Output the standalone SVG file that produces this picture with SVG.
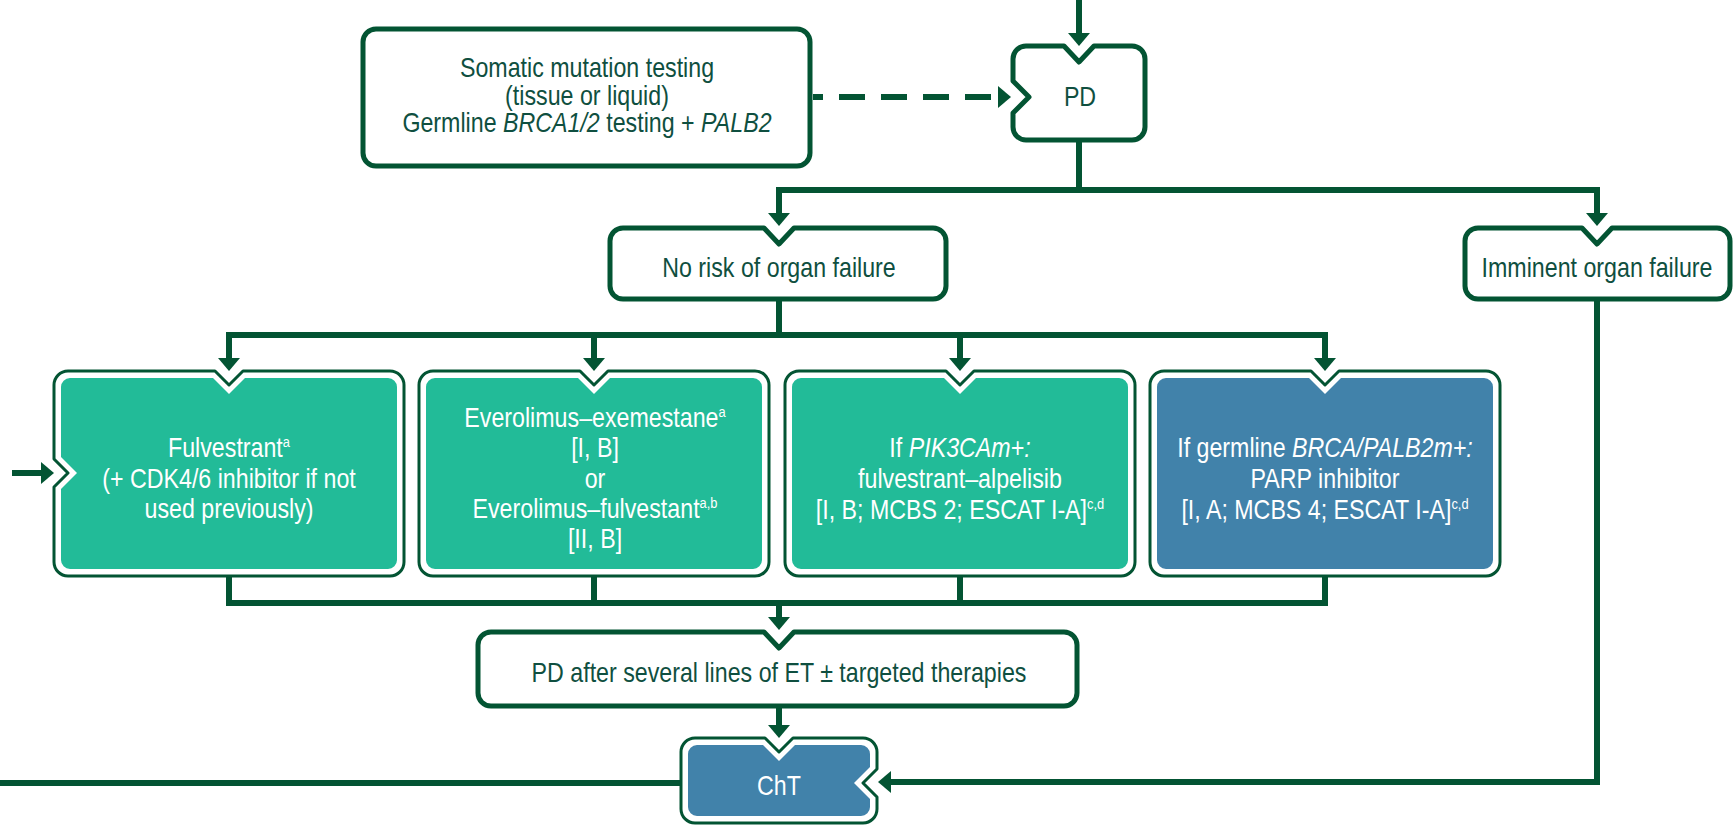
<svg xmlns="http://www.w3.org/2000/svg" width="1735" height="830" viewBox="0 0 1735 830">
<defs>
<style>
.bw{fill:#ffffff;stroke:#035433;stroke-width:5;stroke-linejoin:round}
.bo{fill:#ffffff;stroke:#035433;stroke-width:3;stroke-linejoin:round}
.teal{fill:#22bb98}
.blue{fill:#4182aa}
.ln{fill:none;stroke:#035433;stroke-width:6;stroke-linejoin:miter}
.t{font-family:"Liberation Sans",Arial,sans-serif;font-size:27px;text-anchor:middle;fill:#0f4f40}
.w{fill:#ffffff}
.i{font-style:italic}
.s{font-size:15px}
</style>
<marker id="ah" markerUnits="userSpaceOnUse" viewBox="0 0 13 22" markerWidth="13" markerHeight="22" refX="0" refY="11" orient="auto-start-reverse">
<path d="M0,0 L13,11 L0,22 Z" fill="#035433"/>
</marker>
</defs>

<g id="connectors">
<path class="ln" d="M1079,0 V33" marker-end="url(#ah)"/>
<path class="ln" d="M813,97 H998" stroke-width="7" stroke-dasharray="10 16 26 16 26 16 26 16 26 16 26" marker-end="url(#ah)"/>
<path class="ln" d="M1079,140 V190"/>
<path class="ln" d="M779,213 V190 H1597 V213" marker-start="url(#ah)" marker-end="url(#ah)"/>
<path class="ln" d="M779,299 V335"/>
<path class="ln" d="M229,358 V335 H1325 V358" marker-start="url(#ah)" marker-end="url(#ah)"/>
<path class="ln" d="M594,335 V358" marker-end="url(#ah)"/>
<path class="ln" d="M960,335 V358" marker-end="url(#ah)"/>
<path class="ln" d="M229,576 V603 H1325 V576"/>
<path class="ln" d="M594,576 V603"/>
<path class="ln" d="M960,576 V603"/>
<path class="ln" d="M779,603 V617" marker-end="url(#ah)"/>
<path class="ln" d="M779,706 V725" marker-end="url(#ah)"/>
<path class="ln" d="M0,783 H681"/>
<path class="ln" d="M1597,299 V782 H891" stroke-width="5" marker-end="url(#ah)"/>
<path class="ln" d="M12,473 H41" marker-end="url(#ah)"/>
</g>

<g id="somatic">
<rect class="bw" x="363" y="29" width="447" height="137" rx="13"/>
<text class="t" transform="translate(587,77) scale(0.86,1)">Somatic mutation testing</text>
<text class="t" transform="translate(587,105) scale(0.86,1)">(tissue or liquid)</text>
<text class="t" transform="translate(587,132) scale(0.86,1)">Germline <tspan class="i">BRCA1/2</tspan> testing + <tspan class="i">PALB2</tspan></text>
</g>

<g id="pd">
<path class="bw" d="M1026,46 L1064,46 L1079,62 L1094,46 L1132,46 A13,13 0 0 1 1145,59 L1145,127 A13,13 0 0 1 1132,140 L1026,140 A13,13 0 0 1 1013,127 L1013,113 L1029,97 L1013,81 L1013,59 A13,13 0 0 1 1026,46 Z"/>
<text class="t" transform="translate(1080,106) scale(0.86,1)">PD</text>
</g>

<g id="no-risk">
<path class="bw" d="M623,228 L764,228 L779,244 L794,228 L933,228 A13,13 0 0 1 946,241 L946,286 A13,13 0 0 1 933,299 L623,299 A13,13 0 0 1 610,286 L610,241 A13,13 0 0 1 623,228 Z"/>
<text class="t" transform="translate(779,277) scale(0.86,1)">No risk of organ failure</text>
</g>

<g id="imminent">
<path class="bw" d="M1478,228 L1582,228 L1597,244 L1612,228 L1717,228 A13,13 0 0 1 1730,241 L1730,286 A13,13 0 0 1 1717,299 L1478,299 A13,13 0 0 1 1465,286 L1465,241 A13,13 0 0 1 1478,228 Z"/>
<text class="t" transform="translate(1597,277) scale(0.86,1)">Imminent organ failure</text>
</g>

<g id="fulvestrant">
<path class="bo" d="M68,371 L215,371 L229,385 L243,371 L390,371 A14,14 0 0 1 404,385 L404,562 A14,14 0 0 1 390,576 L68,576 A14,14 0 0 1 54,562 L54,487 L68,473 L54,459 L54,385 A14,14 0 0 1 68,371 Z"/>
<path class="teal" d="M70,378 L213,378 L229,394 L245,378 L388,378 A9,9 0 0 1 397,387 L397,560 A9,9 0 0 1 388,569 L70,569 A9,9 0 0 1 61,560 L61,489 L77,473 L61,457 L61,387 A9,9 0 0 1 70,378 Z"/>
<text class="t w" transform="translate(229,457) scale(0.86,1)">Fulvestrant<tspan class="s" dy="-10">a</tspan></text>
<text class="t w" transform="translate(229,488) scale(0.86,1)">(+ CDK4/6 inhibitor if not</text>
<text class="t w" transform="translate(229,518) scale(0.86,1)">used previously)</text>
</g>

<g id="everolimus">
<path class="bo" d="M433,371 L580,371 L594,385 L608,371 L755,371 A14,14 0 0 1 769,385 L769,562 A14,14 0 0 1 755,576 L433,576 A14,14 0 0 1 419,562 L419,385 A14,14 0 0 1 433,371 Z"/>
<path class="teal" d="M435,378 L578,378 L594,394 L610,378 L753,378 A9,9 0 0 1 762,387 L762,560 A9,9 0 0 1 753,569 L435,569 A9,9 0 0 1 426,560 L426,387 A9,9 0 0 1 435,378 Z"/>
<text class="t w" transform="translate(595,427) scale(0.86,1)">Everolimus–exemestane<tspan class="s" dy="-10">a</tspan></text>
<text class="t w" transform="translate(595,457) scale(0.86,1)">[I, B]</text>
<text class="t w" transform="translate(595,488) scale(0.86,1)">or</text>
<text class="t w" transform="translate(595,518) scale(0.86,1)">Everolimus–fulvestant<tspan class="s" dy="-10">a,b</tspan></text>
<text class="t w" transform="translate(595,548) scale(0.86,1)">[II, B]</text>
</g>

<g id="pik3ca">
<path class="bo" d="M799,371 L946,371 L960,385 L974,371 L1121,371 A14,14 0 0 1 1135,385 L1135,562 A14,14 0 0 1 1121,576 L799,576 A14,14 0 0 1 785,562 L785,385 A14,14 0 0 1 799,371 Z"/>
<path class="teal" d="M801,378 L944,378 L960,394 L976,378 L1119,378 A9,9 0 0 1 1128,387 L1128,560 A9,9 0 0 1 1119,569 L801,569 A9,9 0 0 1 792,560 L792,387 A9,9 0 0 1 801,378 Z"/>
<text class="t w" transform="translate(960,457) scale(0.86,1)">If <tspan class="i">PIK3CAm+:</tspan></text>
<text class="t w" transform="translate(960,488) scale(0.86,1)">fulvestrant–alpelisib</text>
<text class="t w" transform="translate(960,519) scale(0.86,1)">[I, B; MCBS 2; ESCAT I-A]<tspan class="s" dy="-10">c,d</tspan></text>
</g>

<g id="parp">
<path class="bo" d="M1164,371 L1311,371 L1325,385 L1339,371 L1486,371 A14,14 0 0 1 1500,385 L1500,562 A14,14 0 0 1 1486,576 L1164,576 A14,14 0 0 1 1150,562 L1150,385 A14,14 0 0 1 1164,371 Z"/>
<path class="blue" d="M1166,378 L1309,378 L1325,394 L1341,378 L1484,378 A9,9 0 0 1 1493,387 L1493,560 A9,9 0 0 1 1484,569 L1166,569 A9,9 0 0 1 1157,560 L1157,387 A9,9 0 0 1 1166,378 Z"/>
<text class="t w" transform="translate(1325,457) scale(0.86,1)">If germline <tspan class="i">BRCA/PALB2m+:</tspan></text>
<text class="t w" transform="translate(1325,488) scale(0.86,1)">PARP inhibitor</text>
<text class="t w" transform="translate(1325,519) scale(0.86,1)">[I, A; MCBS 4; ESCAT I-A]<tspan class="s" dy="-10">c,d</tspan></text>
</g>

<g id="pd-after">
<path class="bw" d="M491,632 L764,632 L779,648 L794,632 L1064,632 A13,13 0 0 1 1077,645 L1077,693 A13,13 0 0 1 1064,706 L491,706 A13,13 0 0 1 478,693 L478,645 A13,13 0 0 1 491,632 Z"/>
<text class="t" transform="translate(779,682) scale(0.86,1)">PD after several lines of ET ± targeted therapies</text>
</g>

<g id="cht">
<path class="bo" d="M695,738 L765,738 L779,752 L793,738 L863,738 A14,14 0 0 1 877,752 L877,769 L863,783 L877,797 L877,809 A14,14 0 0 1 863,823 L695,823 A14,14 0 0 1 681,809 L681,752 A14,14 0 0 1 695,738 Z"/>
<path class="blue" d="M697,745 L763,745 L779,761 L795,745 L861,745 A9,9 0 0 1 870,754 L870,767 L854,783 L870,799 L870,807 A9,9 0 0 1 861,816 L697,816 A9,9 0 0 1 688,807 L688,754 A9,9 0 0 1 697,745 Z"/>
<text class="t w" transform="translate(779,795) scale(0.86,1)">ChT</text>
</g>
</svg>
